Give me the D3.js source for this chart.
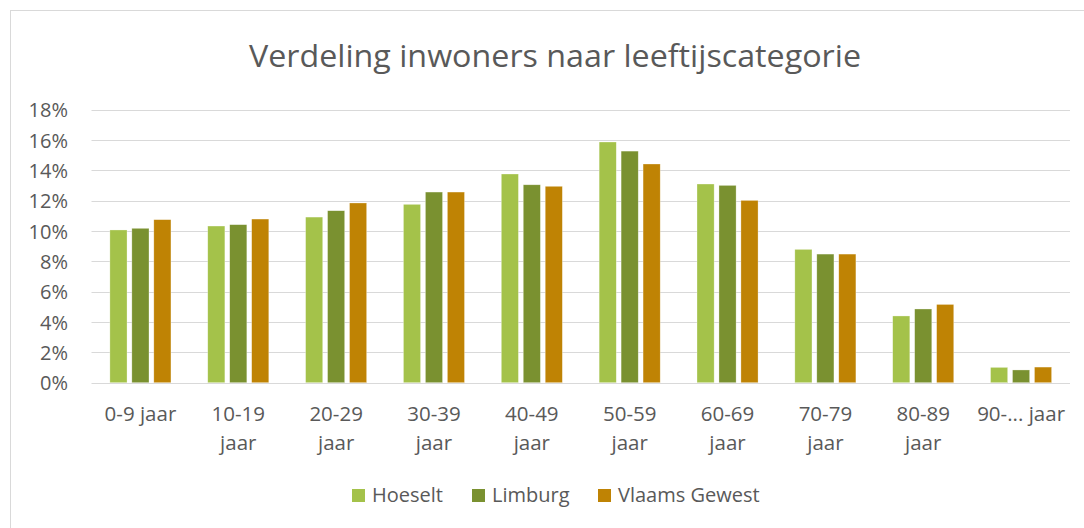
<!DOCTYPE html>
<html>
<head>
<meta charset="utf-8">
<script src="https://cdn.jsdelivr.net/npm/d3@7"></script>
<style>
  body { margin: 0; background: #fff; }
  svg { display: block; font-family: 'Open Sans', sans-serif; }
  text { fill: #595959; }
</style>
</head>
<body>
<svg width="1084" height="528"></svg>
<script>
const categories = ['0-9 jaar','10-19\njaar','20-29\njaar','30-39\njaar','40-49\njaar','50-59\njaar','60-69\njaar','70-79\njaar','80-89\njaar','90-... jaar']
const series = ['Hoeselt','Limburg','Vlaams Gewest']
const hoeselt = [10.07,10.33,10.92,11.76,13.76,15.87,13.10,8.79,4.40,1.01]
const limburg = [10.18,10.42,11.34,12.57,13.05,15.27,13.01,8.48,4.86,0.84]
const vlaams = [10.75,10.79,11.85,12.57,12.95,14.42,12.02,8.48,5.16,1.03]
const yTicks = [0,2,4,6,8,10,12,14,16,18]
const colors = ['#a4c24a','#7a9130','#bf8304']

const values = [hoeselt, limburg, vlaams]
const svg = d3.select('svg')

// chart frame (runs off the right and bottom edge)
svg.append('rect')
  .attr('x',10.5).attr('y',10.5)
  .attr('width',1200).attr('height',600)
  .attr('fill','none').attr('stroke','#d9d9d9').attr('stroke-width',1)

svg.append('text')
  .attr('x',555).attr('y',67)
  .attr('text-anchor','middle')
  .attr('font-size',31)
  .attr('textLength',612).attr('lengthAdjust','spacingAndGlyphs')
  .text('Verdeling inwoners naar leeftijscategorie')

const x0 = d3.scaleBand().domain(categories).range([91.5,1070])
const x1 = d3.scaleBand().domain(series)
  .range([x0.bandwidth()*0.188, x0.bandwidth()*0.812])
  .paddingInner(0.22)
const y = d3.scaleLinear().domain([0,18]).range([382.7,109.7])

/* gridlines */
svg.append('g').selectAll('line').data(yTicks)
  .enter().append('line')
  .attr('x1',x0.range()[0]).attr('x2',x0.range()[1])
  .attr('y1',d => Math.round(y(d))+0.5).attr('y2',d => Math.round(y(d))+0.5)
  .attr('stroke','#d9d9d9').attr('stroke-width',1.2)

/* y axis labels */
const yAxis = svg.append('g')
  .attr('transform','translate(68,0)')
  .call(d3.axisLeft(y).tickValues(yTicks).tickSize(0).tickPadding(0).tickFormat(d => d + '%'))
yAxis.select('.domain').remove()
yAxis.selectAll('text').attr('font-size',20).attr('font-family','Open Sans').attr('fill','#595959').attr('dy','0.36em')

/* bars */
svg.append('g').selectAll('g').data(categories)
  .enter().append('g')
  .attr('transform',d => `translate(${x0(d)},0)`)
  .selectAll('rect').data((d,i) => series.map((s,j) => ({s, v: values[j][i], j})))
  .enter().append('rect')
  .attr('x',d => x1(d.s))
  .attr('width',x1.bandwidth())
  .attr('y',d => y(d.v))
  .attr('height',d => y(0) - y(d.v))
  .attr('fill',d => colors[d.j])
  .attr('stroke','#fff').attr('stroke-opacity',0.5).attr('stroke-width',0.6)

/* x axis labels */
svg.append('g').selectAll('text').data(categories)
  .enter().append('text')
  .attr('text-anchor','middle')
  .attr('font-size',20.5)
  .attr('transform',d => `translate(${x0(d)+x0.bandwidth()/2},421)`)
  .each(function(d){
    d.split('\n').forEach((line,i) => {
      d3.select(this).append('tspan').attr('x',0).attr('y',i*29).text(line)
    })
  })

/* legend */
const legendX = [352,472,598]
const lg = svg.append('g').selectAll('g').data(series)
  .enter().append('g')
  .attr('transform',(d,i) => `translate(${legendX[i]},489)`)
lg.append('rect').attr('width',13).attr('height',13).attr('fill',(d,i) => colors[i])
lg.append('text').attr('x',20).attr('y',13).attr('font-size',20).text(d => d)
</script>
</body>
</html>
